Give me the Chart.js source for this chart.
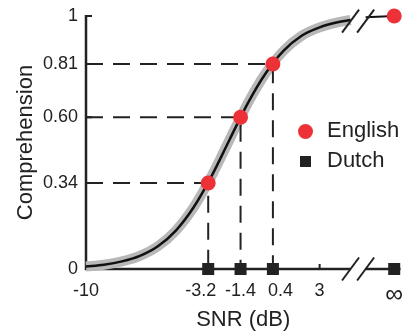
<!DOCTYPE html>
<html>
<head>
<meta charset="utf-8">
<script src="https://cdn.jsdelivr.net/npm/chart.js@4"></script>
<style>
  body { margin: 0; background: #fff; }
  #wrap { position: relative; width: 409px; height: 335px; font-family: "Liberation Sans", Arial, sans-serif; }
  .leg { position: absolute; left: 298px; font-size: 22px; color: #222; line-height: 24px; white-space: nowrap; }
  .leg i { display: inline-block; vertical-align: middle; margin-right: 14px; }
  .dot { width: 15px; height: 15px; border-radius: 50%; background: #ec3237; }
  .sq { width: 11px; height: 11px; background: #222; margin-left: 2px; margin-right: 16px !important; }
</style>
</head>
<body>
<div id="wrap">
  <canvas id="c"></canvas>
  <div class="leg" style="top:118px"><i class="dot"></i>English</div>
  <div class="leg" style="top:148px"><i class="sq"></i>Dutch</div>
</div>
<script>
// fitted curve
var curveX = [-10, -9, -8, -7, -6, -5, -4, -3, -2, -1, 0, 1, 2, 3, 4, 4.72];
var curveY = [0.01, 0.017, 0.03, 0.052, 0.09, 0.152, 0.245, 0.369, 0.513, 0.655, 0.774, 0.863, 0.922, 0.955, 0.975, 0.984];
// part of the curve right of the axis break
var tailX = [5.56, 7.15];
var tailY = [0.995, 1];

var englishX = [-3.2, -1.4, 0.4, 7.15];
var englishY = [0.34, 0.60, 0.81, 1];
var dutchX = [-3.2, -1.4, 0.4, 7.15];
var dutchY = [0, 0, 0, 0];

var xTicks = [-10, -3.2, -1.4, 0.4, 3, 7.15];
// crowded labels are nudged apart with spaces, as in the original figure
var xTickLabels = ["-10", "-3.2   ", "-1.4", "   0.4", "3", "\u221e"];
var yTicks = [0, 0.34, 0.60, 0.81, 1];
var yTickLabels = ["0", "0.34", "0.60", "0.81", "1"];

var breakX = [4.72, 5.56];
var xMin = -10, xMax = 7.5;

var INK = "#222";
var FAMILY = "'Liberation Sans', Arial, sans-serif";

function pts(xs, ys) {
  return xs.map(function (v, i) { return { x: v, y: ys[i] }; });
}

function slash(ctx, cx, cy) {
  ctx.beginPath();
  ctx.moveTo(cx - 8.5, cy + 11.5);
  ctx.lineTo(cx + 8.5, cy - 11.5);
  ctx.stroke();
}

var brokenAxes = {
  id: "brokenAxes",
  beforeDatasetsDraw: function (chart) {
    var ctx = chart.ctx, x = chart.scales.x, y = chart.scales.y;
    var left = x.getPixelForValue(xMin), y0 = y.getPixelForValue(0);
    ctx.save();
    ctx.strokeStyle = INK;
    ctx.lineWidth = 2.5;
    ctx.lineCap = "butt";
    ctx.beginPath();
    ctx.moveTo(left, y.getPixelForValue(1) - 1);
    ctx.lineTo(left, y0);
    ctx.lineTo(x.getPixelForValue(breakX[0]), y0);
    ctx.moveTo(x.getPixelForValue(breakX[1]), y0);
    ctx.lineTo(x.getPixelForValue(xMax), y0);
    ctx.stroke();
    // inward ticks
    ctx.lineWidth = 2;
    ctx.beginPath();
    yTicks.forEach(function (v) {
      if (v === 0) return;
      var py = y.getPixelForValue(v);
      ctx.moveTo(left, py);
      ctx.lineTo(left + 6, py);
    });
    xTicks.slice(1, -1).forEach(function (v) {
      var px = x.getPixelForValue(v);
      ctx.moveTo(px, y0);
      ctx.lineTo(px, y0 - 5);
    });
    ctx.stroke();
    ctx.restore();
  },
  afterDatasetsDraw: function (chart) {
    var ctx = chart.ctx, x = chart.scales.x, y = chart.scales.y;
    ctx.save();
    ctx.strokeStyle = INK;
    ctx.lineWidth = 2;
    breakX.forEach(function (b) {
      var px = x.getPixelForValue(b);
      slash(ctx, px, y.getPixelForValue(0));
      slash(ctx, px, y.getPixelForValue(0.98));
    });
    ctx.restore();
  }
};

var datasets = [
  {
    label: "English",
    data: pts(englishX, englishY),
    pointStyle: "circle",
    pointRadius: 7.5,
    backgroundColor: "#ec3237",
    borderWidth: 0,
    clip: false
  },
  {
    label: "Dutch",
    data: pts(dutchX, dutchY),
    pointStyle: "rect",
    pointRadius: 8.5,
    backgroundColor: INK,
    borderWidth: 0,
    clip: false
  },
  {
    label: "fit",
    data: pts(curveX, curveY),
    showLine: true,
    pointRadius: 0,
    borderColor: "#111",
    borderWidth: 2.5,
    cubicInterpolationMode: "monotone",
    clip: false
  },
  {
    label: "tail",
    data: pts(tailX, tailY),
    showLine: true,
    pointRadius: 0,
    borderColor: "#111",
    borderWidth: 2,
    clip: false
  }
];

// dashed guides from axes to each English point
for (var i = 0; i < 3; i++) {
  datasets.push({
    label: "guide" + i,
    data: [
      { x: xMin, y: englishY[i] },
      { x: englishX[i], y: englishY[i] },
      { x: englishX[i], y: 0 }
    ],
    showLine: true,
    pointRadius: 0,
    borderColor: INK,
    borderWidth: 2,
    borderDash: [17, 10],
    clip: false
  });
}

datasets.push({
  label: "band",
  data: pts(curveX, curveY),
  showLine: true,
  pointRadius: 0,
  borderColor: "#b8b8b8",
  borderWidth: 10,
  cubicInterpolationMode: "monotone",
  clip: false
});

var titleFont = { family: FAMILY, size: 22 };

new Chart(document.getElementById("c"), {
  type: "scatter",
  data: { datasets: datasets },
  plugins: [brokenAxes],
  options: {
    responsive: true,
    maintainAspectRatio: false,
    animation: false,
    layout: { padding: { top: 16, right: 8, left: 0, bottom: 0 } },
    plugins: { legend: { display: false }, tooltip: { enabled: false } },
    scales: {
      x: {
        type: "linear",
        min: xMin,
        max: xMax,
        grid: { display: false, drawTicks: false },
        border: { display: false },
        afterBuildTicks: function (s) {
          s.ticks = xTicks.map(function (v) { return { value: v }; });
        },
        afterFit: function (s) {
          s.height = 66;
          s.paddingLeft = 0;
          s.paddingRight = 0;
        },
        ticks: {
          color: INK,
          font: function (c) {
            var last = c.index === xTicks.length - 1;
            return { family: FAMILY, size: last ? 25 : 18 };
          },
          padding: 11,
          maxRotation: 0,
          autoSkip: false,
          callback: function (v) { return xTickLabels[xTicks.indexOf(v)]; }
        },
        title: { display: true, text: "SNR (dB)", color: INK, font: titleFont, padding: { top: 0, bottom: 2 } }
      },
      y: {
        type: "linear",
        min: 0,
        max: 1,
        grid: { display: false, drawTicks: false },
        border: { display: false },
        afterBuildTicks: function (s) {
          s.ticks = yTicks.map(function (v) { return { value: v }; });
        },
        afterFit: function (s) {
          s.width = 86;
          s.paddingTop = 0;
          s.paddingBottom = 0;
        },
        ticks: {
          color: INK,
          font: { family: FAMILY, size: 18 },
          padding: 8,
          autoSkip: false,
          callback: function (v) { return yTickLabels[yTicks.indexOf(v)]; }
        },
        title: { display: true, text: "Comprehension", color: INK, font: titleFont, padding: { top: 13, bottom: 0 } }
      }
    }
  }
});
</script>
</body>
</html>
